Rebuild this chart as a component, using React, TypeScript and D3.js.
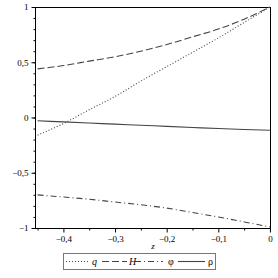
import { useEffect, useRef } from 'react';
import * as d3 from 'd3';

// values
const zValues = [-0.45, -0.4, -0.35, -0.3, -0.25, -0.2, -0.15, -0.1, -0.05, 0];
const qValues = [-0.16, -0.055, 0.07, 0.19, 0.33, 0.46, 0.59, 0.72, 0.86, 1.0];
const hValues = [0.44, 0.47, 0.51, 0.55, 0.6, 0.66, 0.73, 0.8, 0.89, 1.0];
const phiValues = [-0.7, -0.72, -0.74, -0.765, -0.79, -0.82, -0.86, -0.9, -0.945, -0.99];
const rhoValues = [-0.03, -0.04, -0.05, -0.06, -0.07, -0.08, -0.09, -0.1, -0.108, -0.115];

const xTicks = [-0.4, -0.3, -0.2, -0.1, 0];
const xMinorTicks = [-0.45, -0.35, -0.25, -0.15, -0.05];
const yTicks = [-1, -0.5, 0, 0.5, 1];
const yMinorTicks = d3.range(-1, 1.01, 0.1).map(v => Math.round(v * 10) / 10);

const seriesNames = ['q', 'H', 'φ', 'ρ'];
const seriesItalic = [true, true, false, false];
const seriesDash = ['1,2', '7,3', '6,3,1,3', null];

const fmt = (v: number) => {
  if (v === 0) return '0';
  const s = String(Math.abs(v)).replace('.', ',');
  return (v < 0 ? '\u2212' : '') + s;
};

const App = () => {
  const svgRef = useRef<SVGSVGElement>(null);

  useEffect(() => {
    const width = 278;
    const height = 278;
    const margin = { top: 7, right: 7, bottom: 50, left: 35 };
    const font = '"Liberation Serif", "DejaVu Serif", serif';

    const svg = d3.select(svgRef.current);
    svg.selectAll('*').remove();
    svg.attr('width', width).attr('height', height);

    const x = d3.scaleLinear()
      .domain([-0.455, 0.002])
      .range([margin.left, width - margin.right]);
    const y = d3.scaleLinear()
      .domain([-1, 1])
      .range([height - margin.bottom, margin.top]);

    // frame
    svg.append('rect')
      .attr('x', margin.left + 0.5)
      .attr('y', margin.top + 0.5)
      .attr('width', width - margin.left - margin.right - 1)
      .attr('height', height - margin.top - margin.bottom)
      .attr('fill', 'none')
      .attr('stroke', '#000')
      .attr('stroke-width', 1);

    const xAxis = svg.append('g')
      .attr('transform', `translate(0, ${height - margin.bottom + 0.5})`)
      .call(d3.axisBottom(x).tickValues(xTicks).tickSize(4).tickFormat(d => fmt(+d)));
    xAxis.select('.domain').remove();
    xAxis.selectAll('text').attr('font-family', font).attr('font-size', 9).attr('dy', '0.75em');

    svg.append('g')
      .attr('transform', `translate(0, ${height - margin.bottom + 0.5})`)
      .call(d3.axisBottom(x).tickValues(xMinorTicks).tickSize(2).tickFormat(() => ''))
      .select('.domain').remove();

    const yAxis = svg.append('g')
      .attr('transform', `translate(${margin.left + 0.5}, 0)`)
      .call(d3.axisLeft(y).tickValues(yTicks).tickSize(4).tickFormat(d => fmt(+d)));
    yAxis.select('.domain').remove();
    yAxis.selectAll('text').attr('font-family', font).attr('font-size', 9);

    svg.append('g')
      .attr('transform', `translate(${margin.left + 0.5}, 0)`)
      .call(d3.axisLeft(y).tickValues(yMinorTicks).tickSize(2).tickFormat(() => ''))
      .select('.domain').remove();

    // curves
    const allSeries = [qValues, hValues, phiValues, rhoValues];
    const line = d3.line<number>()
      .x((_, i) => x(zValues[i]))
      .y(d => y(d))
      .curve(d3.curveMonotoneX);

    allSeries.forEach((vals, i) => {
      const p = svg.append('path')
        .datum(vals)
        .attr('fill', 'none')
        .attr('stroke', '#444')
        .attr('stroke-width', 1.1)
        .attr('d', line);
      if (seriesDash[i]) p.attr('stroke-dasharray', seriesDash[i]);
    });

    // axis title
    svg.append('text')
      .attr('x', (margin.left + width - margin.right) / 2)
      .attr('y', 249)
      .attr('text-anchor', 'middle')
      .attr('font-family', font)
      .attr('font-style', 'italic')
      .attr('font-size', 9)
      .text('z');

    // legend
    const legend = svg.append('g');
    legend.append('rect')
      .attr('x', 63.5)
      .attr('y', 253.5)
      .attr('width', 152)
      .attr('height', 16)
      .attr('fill', 'none')
      .attr('stroke', '#777')
      .attr('stroke-width', 1);

    const itemStart = [66, 102, 135, 178];
    const itemEnd = [89, 127, 163, 205];
    const labelX = [92, 129, 168, 208];
    seriesNames.forEach((name, i) => {
      const l = legend.append('line')
        .attr('x1', itemStart[i])
        .attr('x2', itemEnd[i])
        .attr('y1', 261.5)
        .attr('y2', 261.5)
        .attr('stroke', '#444')
        .attr('stroke-width', 1.1);
      if (seriesDash[i]) l.attr('stroke-dasharray', seriesDash[i]);
      legend.append('text')
        .attr('x', labelX[i])
        .attr('y', 265)
        .attr('font-family', font)
        .attr('font-style', seriesItalic[i] ? 'italic' : 'normal')
        .attr('font-size', 10)
        .text(name);
    });
  }, []);

  return (
    <svg ref={svgRef} style={{ position: 'absolute', left: 0, top: 0, background: '#fff' }}></svg>
  );
};

export default App;
